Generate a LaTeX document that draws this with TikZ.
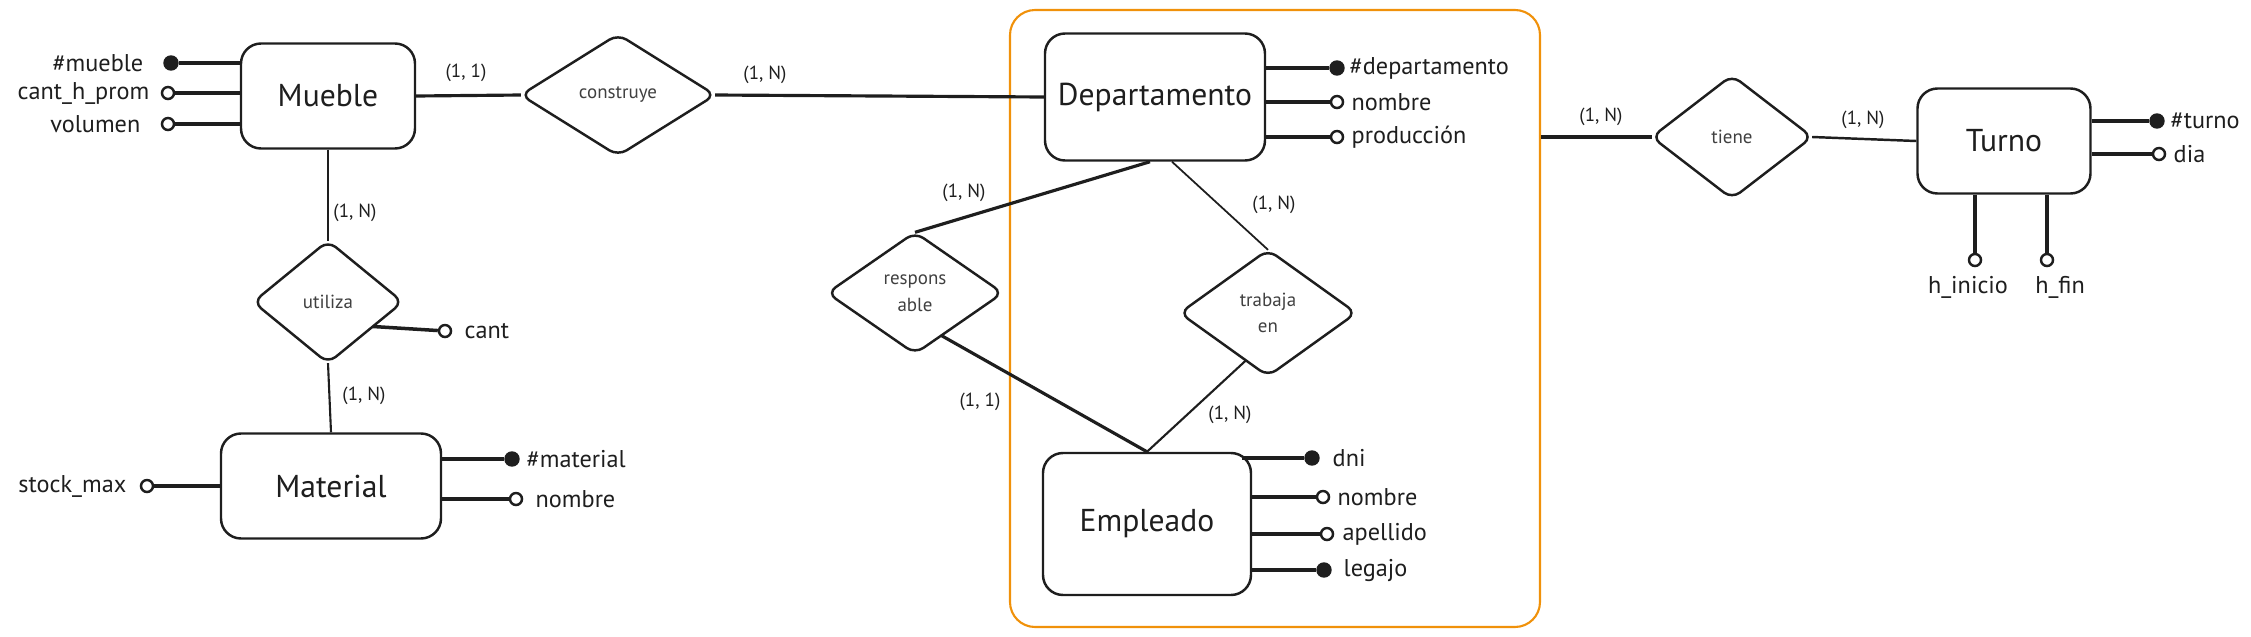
\documentclass[tikz,border=0pt]{standalone}
\usepackage{fontspec}
\setmainfont{PT Sans}
\usetikzlibrary{calc}

\definecolor{ink}{HTML}{1E1E1E}
\definecolor{naranja}{RGB}{240,145,10}

\newcommand\attfont{\fontsize{6.9}{8}\selectfont}
\newcommand\entfont{\fontsize{9}{10}\selectfont}
\newcommand\relfont{\fontsize{5.4}{6.6}\selectfont}

\tikzset{
  entidad/.style={draw=ink, line width=0.7pt, rounded corners=2mm, font=\entfont, text=ink, inner sep=0pt},
  relacion/.style={rectangle, font=\relfont, text=ink!85, inner sep=0pt, align=center},
  rombo/.style={draw=ink, line width=0.7pt, rounded corners=1mm},
  atrib/.style={font=\attfont, text=ink, inner sep=0pt},
  clave/.style={circle, fill=ink, draw=ink, minimum size=1.4mm, inner sep=0pt},
  opcional/.style={circle, draw=ink, fill=white, line width=0.7pt, minimum size=1.2mm, inner sep=0pt},
  card/.style={font=\relfont, text=ink, inner sep=0pt},
  enlace/.style={draw=ink, line width=0.9pt},
  fino/.style={draw=ink, line width=0.5pt},
  attlinea/.style={draw=ink, line width=1pt},
}

\begin{document}
\begin{tikzpicture}[x=0.1mm,y=-0.1mm]
\useasboundingbox (0,0) rectangle (2251,637);

% agregacion
\node[draw=naranja, line width=0.6pt, rounded corners=2.5mm, minimum width=53mm, minimum height=61.7mm, inner sep=0pt] (agregacion) at (1275,318.5) {};

% entidades
\node[entidad, minimum width=17.4mm, minimum height=10.5mm] (mueble) at (328,96) {Mueble};
\node[entidad, minimum width=22mm, minimum height=10.5mm] (material) at (331,486) {Material};
\node[entidad, minimum width=22mm, minimum height=12.7mm] (departamento) at (1155,97) {Departamento};
\node[entidad, minimum width=20.8mm, minimum height=14.2mm] (empleado) at (1147,524) {Empleado};
\node[entidad, minimum width=17.3mm, minimum height=10.5mm] (turno) at (2004,141) {Turno};

% relaciones
\node[relacion, minimum width=19.3mm, minimum height=12mm] (construye) at (618,95) {construye};
\node[relacion, minimum width=14.8mm, minimum height=12.1mm] (utiliza) at (328,302) {utiliza};
\node[relacion, minimum width=17.4mm, minimum height=12mm] (responsable) at (915,293) {respons\\[1pt]able};
\node[relacion, minimum width=17.5mm, minimum height=12.5mm] (trabaja) at (1268,313) {trabaja\\[1pt]en};
\node[relacion, minimum width=15.9mm, minimum height=12.2mm] (tiene) at (1732,137) {tiene};
\foreach \r in {construye,utiliza,responsable,trabaja,tiene}
  \draw[rombo] (\r.north) -- (\r.east) -- (\r.south) -- (\r.west) -- cycle;

% conexiones
\draw[enlace] (mueble.east) -- (construye.west);
\draw[enlace] (construye.east) -- (departamento.west);
\draw[fino, line width=0.6pt] (mueble.south) -- (utiliza.north);
\draw[fino, line width=0.6pt] (utiliza.south) -- (material.north);
\draw[enlace] ([xshift=-0.5mm]departamento.south) -- (responsable.north);
\draw[fino] ([xshift=1.7mm]departamento.south) -- (trabaja.north);
\draw[enlace] ($(responsable.south)!0.3!(responsable.east)$) -- (empleado.north);
\draw[fino, line width=0.6pt] ($(trabaja.south)!0.25!(trabaja.west)$) -- (empleado.north);
\draw[enlace] (agregacion.east |- tiene.west) -- (tiene.west);
\draw[enlace, line width=0.7pt] (tiene.east) -- (turno.west);

% cardinalidades
\node[card] (c-mc) at (466,73) {(1, 1)};
\node[card] (c-cd) at (765,75) {(1, N)};
\node[card] (c-mu) at (355,213) {(1, N)};
\node[card] (c-um) at (364,396) {(1, N)};
\node[card] (c-dr) at (964,193) {(1, N)};
\node[card] (c-dt) at (1274,205) {(1, N)};
\node[card] (c-re) at (980,402) {(1, 1)};
\node[card] (c-te) at (1230,415) {(1, N)};
\node[card] (c-at) at (1601,117) {(1, N)};
\node[card] (c-tt) at (1863,120) {(1, N)};

% atributos de Mueble
\node[clave] (m-id) at (171,63) {};
\node[opcional] (m-cant) at (168,93) {};
\node[opcional] (m-vol) at (168,124) {};
\node[atrib, anchor=east] (t-m-id) at (144,63) {\#mueble};
\node[atrib, anchor=east] (t-m-cant) at (150,93) {cant\_h\_prom};
\node[atrib, anchor=east] (t-m-vol) at (141,124) {volumen};
\draw[attlinea] (mueble.west |- m-id) -- (m-id);
\draw[attlinea] (mueble.west |- m-cant) -- (m-cant);
\draw[attlinea] (mueble.west |- m-vol) -- (m-vol);

% atributo de utiliza
\node[opcional] (u-cant) at (445,331) {};
\node[atrib, anchor=west] (t-u-cant) at (464,331) {cant};
\draw[attlinea] ($(utiliza.south)!0.6!(utiliza.east)$) -- (u-cant);

% atributos de Material
\node[clave] (ma-id) at (512,459) {};
\node[opcional] (ma-nom) at (516,499) {};
\node[opcional] (ma-stock) at (147,486) {};
\node[atrib, anchor=west] (t-ma-id) at (526,459) {\#material};
\node[atrib, anchor=west] (t-ma-nom) at (535,499) {nombre};
\node[atrib, anchor=east] (t-ma-stock) at (127,486) {stock\_max};
\draw[attlinea] (material.east |- ma-id) -- (ma-id);
\draw[attlinea] (material.east |- ma-nom) -- (ma-nom);
\draw[attlinea] (material.west |- ma-stock) -- (ma-stock);

% atributos de Departamento
\node[clave] (d-id) at (1337,68) {};
\node[opcional] (d-nom) at (1337,102) {};
\node[opcional] (d-prod) at (1337,137) {};
\node[atrib, anchor=west] (t-d-id) at (1349,68) {\#departamento};
\node[atrib, anchor=west] (t-d-nom) at (1351,102) {nombre};
\node[atrib, anchor=west] (t-d-prod) at (1351,137) {producción};
\draw[attlinea] (departamento.east |- d-id) -- (d-id);
\draw[attlinea] (departamento.east |- d-nom) -- (d-nom);
\draw[attlinea] (departamento.east |- d-prod) -- (d-prod);

% atributos de Empleado
\node[clave] (e-dni) at (1312,458) {};
\node[opcional] (e-nom) at (1323,497) {};
\node[opcional] (e-ape) at (1327,534) {};
\node[clave] (e-leg) at (1324,570) {};
\node[atrib, anchor=west] (t-e-dni) at (1332,458) {dni};
\node[atrib, anchor=west] (t-e-nom) at (1337,497) {nombre};
\node[atrib, anchor=west] (t-e-ape) at (1342,534) {apellido};
\node[atrib, anchor=west] (t-e-leg) at (1343,570) {legajo};
\draw[attlinea] ([xshift=-1mm]empleado.east |- e-dni) -- (e-dni);
\draw[attlinea] (empleado.east |- e-nom) -- (e-nom);
\draw[attlinea] (empleado.east |- e-ape) -- (e-ape);
\draw[attlinea] (empleado.east |- e-leg) -- (e-leg);

% atributos de Turno
\node[clave] (tu-id) at (2157,121) {};
\node[opcional] (tu-dia) at (2159,154) {};
\node[opcional] (tu-ini) at (1975,260) {};
\node[opcional] (tu-fin) at (2047,260) {};
\node[atrib, anchor=west] (t-tu-id) at (2170,121) {\#turno};
\node[atrib, anchor=west] (t-tu-dia) at (2173,154) {dia};
\node[atrib] (t-tu-ini) at (1968,287) {h\_inicio};
\node[atrib] (t-tu-fin) at (2060,287) {h\_fin};
\draw[attlinea] (turno.east |- tu-id) -- (tu-id);
\draw[attlinea] (turno.east |- tu-dia) -- (tu-dia);
\draw[attlinea] (turno.south -| tu-ini) -- (tu-ini);
\draw[attlinea] (turno.south -| tu-fin) -- (tu-fin);
\end{tikzpicture}
\end{document}
